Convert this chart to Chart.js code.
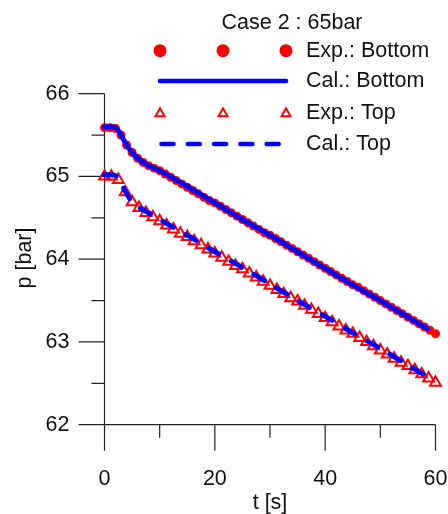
<!DOCTYPE html>
<html>
<head>
<meta charset="utf-8">
<script src="https://cdn.jsdelivr.net/npm/chart.js@4.4.1/dist/chart.umd.min.js"></script>
<style>
  body { margin: 0; background: #fff; }
  #wrap { width: 448px; height: 514px; }
</style>
</head>
<body>
<div id="wrap"><canvas id="content" width="448" height="514"></canvas></div>
<script>
// measured, bottom (every 1 s)
var tExpBottom = [0, 1, 2, 3, 4, 5, 6, 7, 8, 9, 10, 11, 12, 13, 14, 15, 16, 17, 18, 19, 20,
  21, 22, 23, 24, 25, 26, 27, 28, 29, 30, 31, 32, 33, 34, 35, 36, 37, 38, 39, 40,
  41, 42, 43, 44, 45, 46, 47, 48, 49, 50, 51, 52, 53, 54, 55, 56, 57, 58, 59, 60];
var expBottom = [65.59, 65.59, 65.58, 65.50, 65.38, 65.29, 65.22, 65.17, 65.13, 65.10,
  65.07, 65.03, 64.99, 64.95, 64.91, 64.87, 64.83, 64.79, 64.75, 64.71,
  64.68, 64.64, 64.60, 64.56, 64.52, 64.48, 64.44, 64.40, 64.36, 64.32,
  64.29, 64.25, 64.21, 64.17, 64.13, 64.09, 64.05, 64.01, 63.97, 63.93,
  63.89, 63.85, 63.81, 63.77, 63.73, 63.69, 63.66, 63.62, 63.58, 63.54,
  63.50, 63.46, 63.42, 63.38, 63.34, 63.30, 63.26, 63.22, 63.18, 63.14, 63.10];

// measured, top (every 1.25 s)
var tExpTop = [0, 1.25, 2.5, 3.75, 5, 6.25, 7.5, 8.75, 10, 11.25, 12.5, 13.75, 15, 16.25, 17.5, 18.75, 20,
  21.25, 22.5, 23.75, 25, 26.25, 27.5, 28.75, 30, 31.25, 32.5, 33.75, 35, 36.25, 37.5, 38.75, 40,
  41.25, 42.5, 43.75, 45, 46.25, 47.5, 48.75, 50, 51.25, 52.5, 53.75, 55, 56.25, 57.5, 58.75, 60];
var expTop = [65.00, 65.00, 64.96, 64.81, 64.69, 64.62, 64.56, 64.51, 64.46,
  64.41, 64.36, 64.31, 64.27, 64.22, 64.17, 64.12, 64.07,
  64.02, 63.97, 63.92, 63.88, 63.83, 63.78, 63.73, 63.68,
  63.63, 63.58, 63.53, 63.49, 63.44, 63.39, 63.34, 63.29,
  63.24, 63.19, 63.14, 63.10, 63.05, 63.00, 62.95, 62.90,
  62.85, 62.80, 62.75, 62.71, 62.66, 62.61, 62.56, 62.51];

// calculation
var tCal = [0, 2, 3, 4, 5, 6, 8, 10, 15, 20, 25, 30, 35, 40, 45, 50, 55, 58.5];
var calBottom = [65.60, 65.59, 65.50, 65.38, 65.29, 65.22, 65.13, 65.07, 64.88, 64.68, 64.48, 64.29, 64.09, 63.89,
  63.69, 63.50, 63.30, 63.16];
var calTop = [65.02, 65.01, 64.92, 64.79, 64.70, 64.64, 64.56, 64.48, 64.29, 64.09, 63.90, 63.70, 63.50, 63.31,
  63.11, 62.92, 62.72, 62.58];

var xTicks = [0, 20, 40, 60];
var xMinor = [10, 30, 50];
var yTicks = [62, 63, 64, 65, 66];
var yMinor = [62.5, 63.5, 64.5, 65.5];
var titleText = "Case 2 : 65bar";
var seriesNames = ["Exp.: Bottom", "Cal.: Bottom", "Exp.: Top", "Cal.: Top"];

var FONT = '21.5px "Liberation Sans", Arial, sans-serif';

function pts(xs, ys) {
  var out = [];
  for (var i = 0; i < xs.length; i++) out.push({ x: xs[i], y: ys[i] });
  return out;
}

var axesPlugin = {
  id: "axes",
  beforeDatasetsDraw: function (chart) {
    var ctx = chart.ctx, sx = chart.scales.x, sy = chart.scales.y;
    var x0 = sx.getPixelForValue(0), y0 = sy.getPixelForValue(62);
    ctx.save();
    ctx.strokeStyle = "#222";
    ctx.lineWidth = 1.2;
    ctx.beginPath();
    ctx.moveTo(x0, sy.getPixelForValue(66));
    ctx.lineTo(x0, y0);
    ctx.lineTo(sx.getPixelForValue(60), y0);
    yTicks.forEach(function (v) {
      var y = sy.getPixelForValue(v);
      ctx.moveTo(x0 - 26, y); ctx.lineTo(x0, y);
    });
    yMinor.forEach(function (v) {
      var y = sy.getPixelForValue(v);
      ctx.moveTo(x0 - 13, y); ctx.lineTo(x0, y);
    });
    xTicks.forEach(function (v) {
      var x = sx.getPixelForValue(v);
      ctx.moveTo(x, y0); ctx.lineTo(x, y0 + 26);
    });
    xMinor.forEach(function (v) {
      var x = sx.getPixelForValue(v);
      ctx.moveTo(x, y0); ctx.lineTo(x, y0 + 13);
    });
    ctx.stroke();

    ctx.fillStyle = "#111";
    ctx.font = FONT;
    ctx.textAlign = "right";
    ctx.textBaseline = "middle";
    yTicks.forEach(function (v) {
      ctx.fillText(String(v), x0 - 35, sy.getPixelForValue(v));
    });
    ctx.textAlign = "center";
    xTicks.forEach(function (v) {
      ctx.fillText(String(v), sx.getPixelForValue(v), y0 + 54);
    });
    ctx.fillText("t [s]", (x0 + sx.getPixelForValue(60)) / 2, y0 + 78);
    ctx.translate(25, 258);
    ctx.rotate(-Math.PI / 2);
    ctx.fillText("p [bar]", 0, 0);
    ctx.restore();
  }
};

var legendPlugin = {
  id: "legendBox",
  afterDraw: function (chart) {
    var ctx = chart.ctx;
    var ds = chart.data.datasets;
    var rows = [50.7, 81, 112.7, 144];
    var mx = [160, 223, 286];
    ctx.save();
    ctx.fillStyle = "#111";
    ctx.font = FONT;
    ctx.textAlign = "center";
    ctx.textBaseline = "middle";
    ctx.fillText(titleText, 292, 23);
    ctx.textAlign = "left";
    for (var i = 0; i < 4; i++) {
      ctx.fillText(seriesNames[i], 306, rows[i]);
    }
    // exp bottom circles
    ctx.fillStyle = ds[0].backgroundColor;
    mx.forEach(function (x) {
      ctx.beginPath(); ctx.arc(x, rows[0], 6.5, 0, Math.PI * 2); ctx.fill();
    });
    // exp top triangles
    ctx.strokeStyle = ds[2].borderColor;
    ctx.lineWidth = 2;
    mx.forEach(function (x) {
      var y = rows[2];
      ctx.beginPath();
      ctx.moveTo(x, y - 4.5); ctx.lineTo(x + 4.5, y + 3.5); ctx.lineTo(x - 4.5, y + 3.5);
      ctx.closePath(); ctx.stroke();
    });
    // lines
    ctx.strokeStyle = ds[1].borderColor;
    ctx.lineWidth = 4.6;
    ctx.lineCap = "round";
    ctx.beginPath(); ctx.moveTo(160, rows[1]); ctx.lineTo(286, rows[1]); ctx.stroke();
    ctx.setLineDash(ds[3].borderDash);
    ctx.beginPath(); ctx.moveTo(161.5, rows[3]); ctx.lineTo(286, rows[3]); ctx.stroke();
    ctx.restore();
  }
};

new Chart("content", {
  type: "scatter",
  data: {
    datasets: [
      {
        label: seriesNames[0],
        data: pts(tExpBottom, expBottom),
        showLine: false,
        pointStyle: "circle",
        pointRadius: 4.5,
        backgroundColor: "#ff0000",
        borderColor: "#ff0000",
        borderWidth: 0,
        order: 2,
        clip: false
      },
      {
        label: seriesNames[1],
        data: pts(tCal, calBottom),
        showLine: true,
        pointRadius: 0,
        borderColor: "#0000ff",
        borderWidth: 5,
        borderCapStyle: "round",
        tension: 0.3,
        order: 1,
        clip: false
      },
      {
        label: seriesNames[2],
        data: pts(tExpTop, expTop),
        showLine: false,
        pointStyle: "triangle",
        pointRadius: 6.3,
        backgroundColor: "rgba(0,0,0,0)",
        borderColor: "#ff0000",
        borderWidth: 2,
        order: 2,
        clip: false
      },
      {
        label: seriesNames[3],
        data: pts(tCal, calTop),
        showLine: true,
        pointRadius: 0,
        borderColor: "#0000ff",
        borderWidth: 5,
        borderDash: [12, 14.3],
        borderCapStyle: "round",
        tension: 0.3,
        order: 1,
        clip: false
      }
    ]
  },
  options: {
    responsive: false,
    animation: false,
    layout: { padding: { left: 104.5, top: 93.7, right: 12.5, bottom: 89.3 } },
    scales: {
      x: { type: "linear", min: 0, max: 60, display: false },
      y: { type: "linear", min: 62, max: 66, display: false }
    },
    plugins: {
      legend: { display: false },
      title: { display: false },
      tooltip: { enabled: false }
    }
  },
  plugins: [axesPlugin, legendPlugin]
});
</script>
</body>
</html>
